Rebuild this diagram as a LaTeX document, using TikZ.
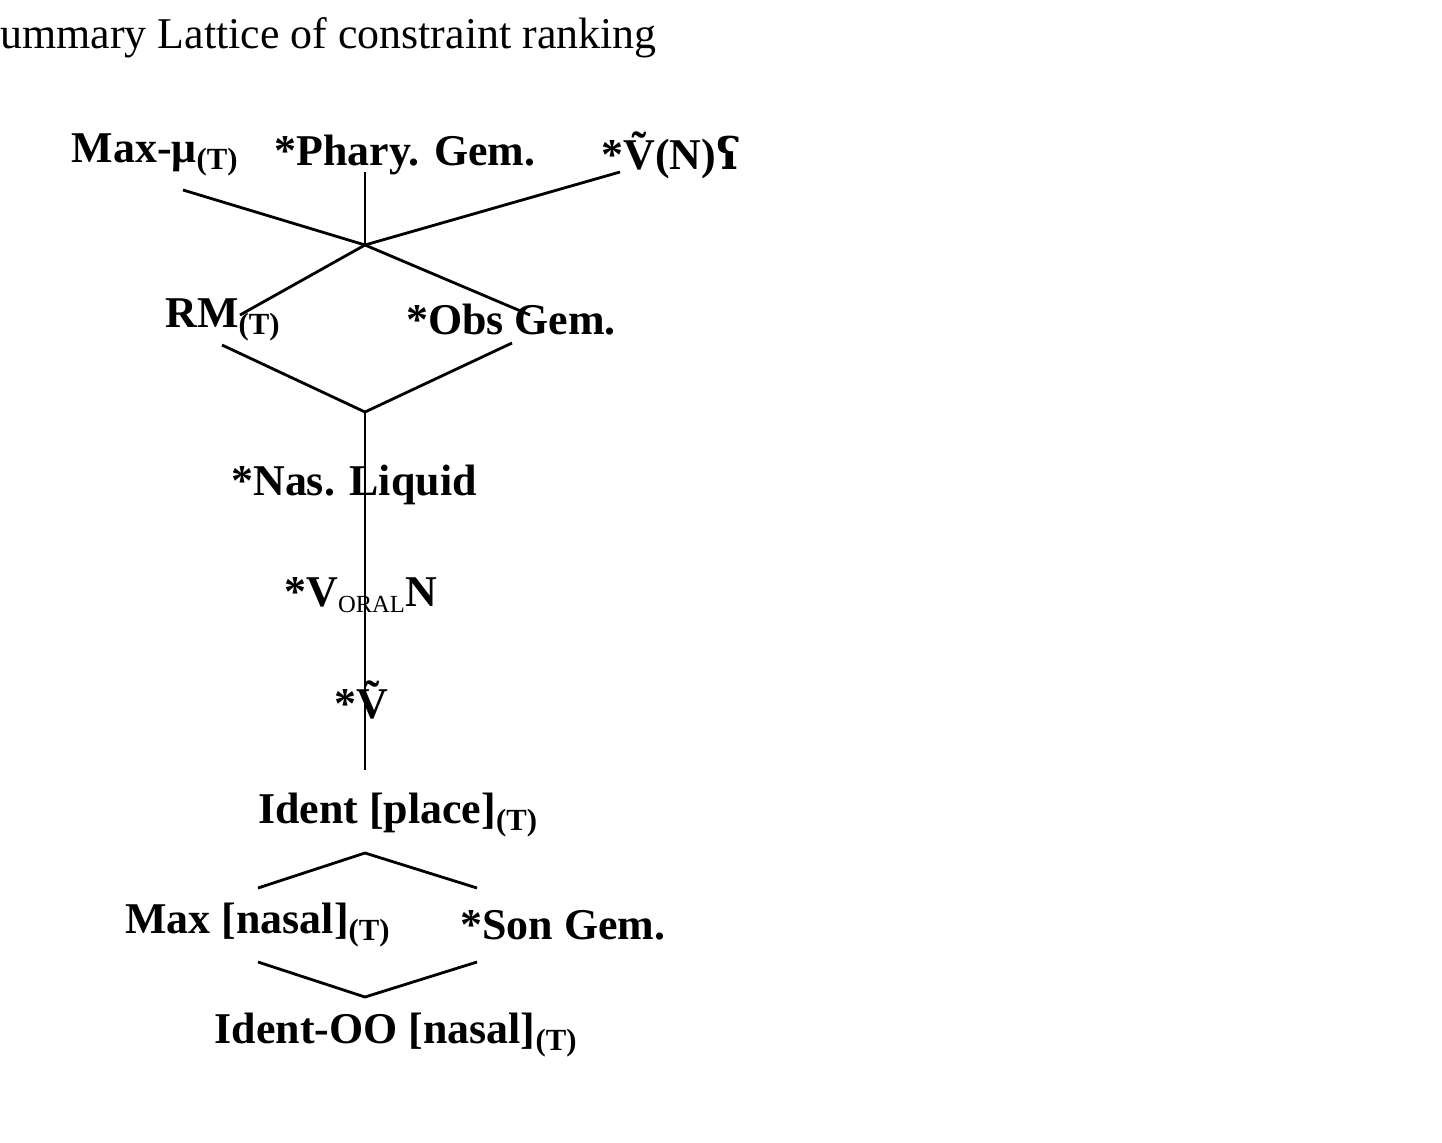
\documentclass[tikz,border=0pt]{standalone}
\usepackage{fontspec}
\setmainfont{Liberation Serif}
\newfontfamily\ipafont{DejaVu Serif}
\usetikzlibrary{positioning}
\tikzset{cons/.style={font=\fontsize{25}{29}\selectfont\bfseries, inner sep=0pt, anchor=center}}
\tikzset{rline/.style={-, line width=1.6pt}}
\newcommand{\tsub}{\textsubscript{(T)}}
\newcommand{\nasv}{\~{V}}
\begin{document}
\begin{tikzpicture}[x=0.02cm, y=-0.02cm]
\useasboundingbox (0,0) rectangle (1442,1142);
\node (TITLE) [anchor=west, inner sep=0pt, font=\fontsize{25}{29}\selectfont] at (0,38) {ummary Lattice of constraint ranking};
% top stratum
\node (MAXMU) [cons] at (155,155) {Max-μ\tsub};
\node (PHARY) [cons] at (405,155) {*Phary. Gem.};
\node (NASPH) [cons] at (671,155) {*\nasv(N){\ipafont ʕ}};
\coordinate (J1) at (365,245);
\draw[rline] (183,190) -- (J1);
\draw[rline] (365,172) -- (J1);
\draw[rline] (620,172) -- (J1);
% second stratum
\node (RM) [cons] at (223,320) {RM\tsub};
\node (OBS) [cons] at (511,320) {*Obs Gem.};
\draw[rline] (J1) -- (240,315);
\draw[rline] (J1) -- (530,315);
\coordinate (J2) at (365,412);
\draw[rline] (222,345) -- (J2) -- (512,343);
\coordinate (J3) at (365,770);
\draw[rline] (J2) -- (J3);
% chain
\node (NASLIQ) [cons] at (354,485) {*Nas. Liquid};
\node (VORAL) [cons] at (361,595) {*V{\mdseries\fontsize{20}{22}\selectfont\textsubscript{ORAL}}N};
\node (NASV) [cons] at (361,700) {*\nasv};
\node (IDPL) [cons] at (398,815) {Ident [place]\tsub};
\coordinate (J4) at (365,853);
\draw[rline] (258,888) -- (J4) -- (477,888);
\node (MAXNAS) [cons] at (258,925) {Max [nasal]\tsub};
\node (SONGEM) [cons] at (563,925) {*Son Gem.};
\coordinate (J5) at (365,997);
\draw[rline] (258,962) -- (J5) -- (477,962);
\node (IDOO) [cons] at (396,1035) {Ident-OO [nasal]\tsub};
\end{tikzpicture}
\end{document}
